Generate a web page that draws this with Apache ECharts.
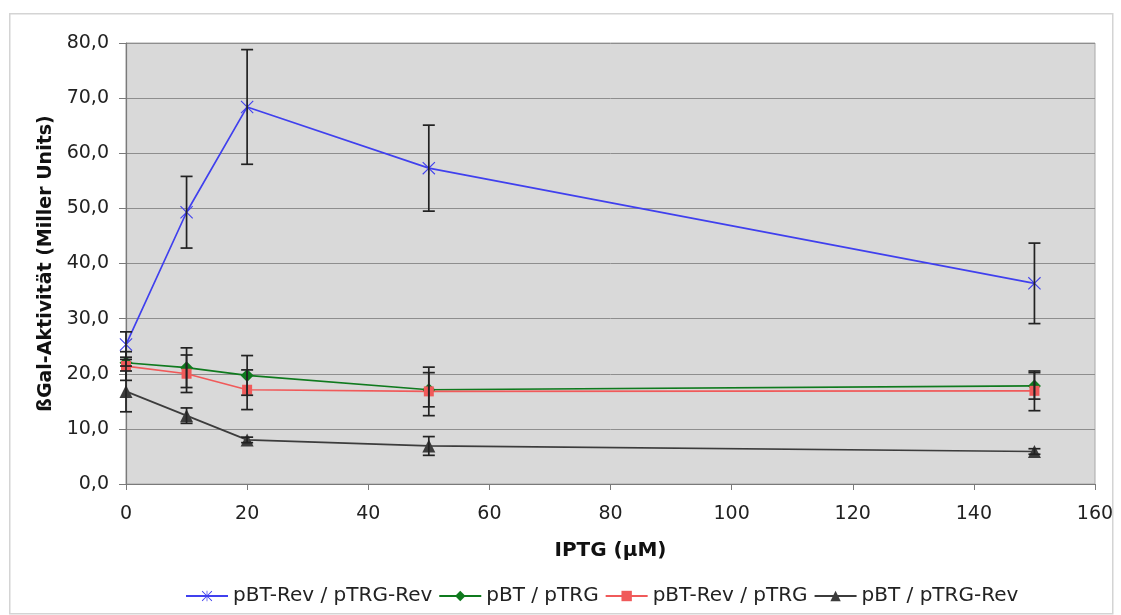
<!DOCTYPE html>
<html>
<head>
<meta charset="utf-8">
<script src="https://cdn.jsdelivr.net/npm/echarts@6/dist/echarts.min.js"></script>
<style>
  html, body { margin: 0; padding: 0; background: #ffffff; }
  #chart { width: 1121px; height: 615px; }
</style>
</head>
<body>
<div id="chart"></div>
<script>
// ---- data ----
var iptg = [0, 10, 20, 50, 150];
var seriesNames = ['pBT-Rev / pTRG-Rev', 'pBT / pTRG', 'pBT-Rev / pTRG', 'pBT / pTRG-Rev'];
var revRev = [25.3, 49.3, 68.4, 57.3, 36.4];
var revRevErr = [2.3, 6.5, 10.4, 7.8, 7.3];
var btTrg = [22.0, 21.1, 19.7, 17.1, 17.8];
var btTrgErr = [0.6, 3.6, 3.6, 3.1, 2.4];
var revTrg = [21.4, 20.0, 17.1, 16.8, 16.9];
var revTrgErr = [2.6, 3.4, 3.6, 4.4, 3.6];
var btTrgRev = [16.8, 12.4, 8.0, 6.9, 5.9];
var btTrgRevErr = [3.7, 1.4, 0.5, 1.7, 0.5];
var xTicks = [0, 20, 40, 60, 80, 100, 120, 140, 160];
var yTicks = [0, 10, 20, 30, 40, 50, 60, 70, 80];
var xTitle = 'IPTG (µM)';
var yTitle = 'ßGal-Aktivität (Miller Units)';

var colors = ['#4040ee', '#0f7a1e', '#f05a5a', '#3c3c3c'];
var starPath = 'path://M0,1.2 L1.2,0 L10,8.8 L18.8,0 L20,1.2 L11.2,10 L20,18.8 L18.8,20 L10,11.2 L1.2,20 L0,18.8 L8.8,10 Z M9.3,0 L10.7,0 L10.7,20 L9.3,20 Z';
var symbols = [starPath, 'diamond', 'rect', 'triangle'];
var symbolSizes = [13, 13, 10, 13];

var means = [revRev, btTrg, revTrg, btTrgRev];
var errs = [revRevErr, btTrgErr, revTrgErr, btTrgRevErr];

function pairs(ys) { return iptg.map(function (x, i) { return [x, ys[i]]; }); }
function errData(ys, es) { return iptg.map(function (x, i) { return [x, ys[i] - es[i], ys[i] + es[i]]; }); }

var font = 'DejaVu Sans';
var series = [];
means.forEach(function (m, k) {
  series.push({
    name: seriesNames[k],
    type: 'line',
    data: pairs(m),
    symbol: symbols[k],
    symbolSize: symbolSizes[k],
    showAllSymbol: true,
    lineStyle: { color: colors[k], width: 1.7 },
    itemStyle: { color: colors[k] },
    z: 3,
    animation: false
  });
});
means.forEach(function (m, k) {
  series.push({
    type: 'custom',
    data: errData(m, errs[k]),
    encode: { x: 0, y: [1, 2] },
    z: 4,
    silent: true,
    animation: false,
    renderItem: function (params, api) {
      var x = api.value(0);
      var lo = api.coord([x, api.value(1)]);
      var hi = api.coord([x, api.value(2)]);
      var w = 6;
      var st = { stroke: '#222222', lineWidth: 1.7 };
      return {
        type: 'group',
        children: [
          { type: 'line', shape: { x1: lo[0], y1: lo[1], x2: hi[0], y2: hi[1] }, style: st },
          { type: 'line', shape: { x1: lo[0] - w, y1: lo[1], x2: lo[0] + w, y2: lo[1] }, style: st },
          { type: 'line', shape: { x1: hi[0] - w, y1: hi[1], x2: hi[0] + w, y2: hi[1] }, style: st }
        ]
      };
    }
  });
});

var chart = echarts.init(document.getElementById('chart'), null, { renderer: 'canvas' });
chart.setOption({
  animation: false,
  backgroundColor: '#ffffff',
  graphic: [{
    type: 'rect', left: 9, top: 13, z: -10,
    shape: { width: 1103, height: 600 },
    style: { fill: '#ffffff', stroke: '#d4d4d4', lineWidth: 1.5 }
  }],
  grid: {
    left: 126, right: 26, top: 43, bottom: 131,
    show: true, backgroundColor: '#d9d9d9', borderColor: '#a8a8a8', borderWidth: 1
  },
  xAxis: {
    type: 'value',
    min: xTicks[0], max: xTicks[xTicks.length - 1], interval: xTicks[1] - xTicks[0],
    name: xTitle, nameLocation: 'middle', nameGap: 57,
    nameTextStyle: { fontFamily: font, fontSize: 20, fontWeight: 'bold', color: '#111' },
    axisLine: { show: true, lineStyle: { color: '#7a7a7a', width: 1.2 } },
    axisTick: { show: true, inside: false, length: 6, lineStyle: { color: '#7a7a7a' } },
    axisLabel: { fontFamily: font, fontSize: 19, color: '#222', margin: 21 },
    splitLine: { show: false }
  },
  yAxis: {
    type: 'value',
    min: yTicks[0], max: yTicks[yTicks.length - 1], interval: yTicks[1] - yTicks[0],
    name: yTitle, nameLocation: 'middle', nameGap: 70,
    nameTextStyle: { fontFamily: font, fontSize: 19, fontWeight: 'bold', color: '#111' },
    axisLine: { show: true, lineStyle: { color: '#7a7a7a', width: 1.2 } },
    axisTick: { show: true, inside: false, length: 7, lineStyle: { color: '#7a7a7a' } },
    axisLabel: {
      fontFamily: font, fontSize: 19, color: '#222', margin: 17,
      formatter: function (v) { return v.toFixed(1).replace('.', ','); }
    },
    splitLine: { show: true, lineStyle: { color: '#8e8e8e', width: 1 } }
  },
  legend: {
    data: seriesNames,
    bottom: 4,
    left: 180,
    itemWidth: 42,
    itemHeight: 13,
    itemGap: 6,
    textStyle: { fontFamily: font, fontSize: 20, color: '#222' }
  },
  series: series
});
</script>
</body>
</html>
